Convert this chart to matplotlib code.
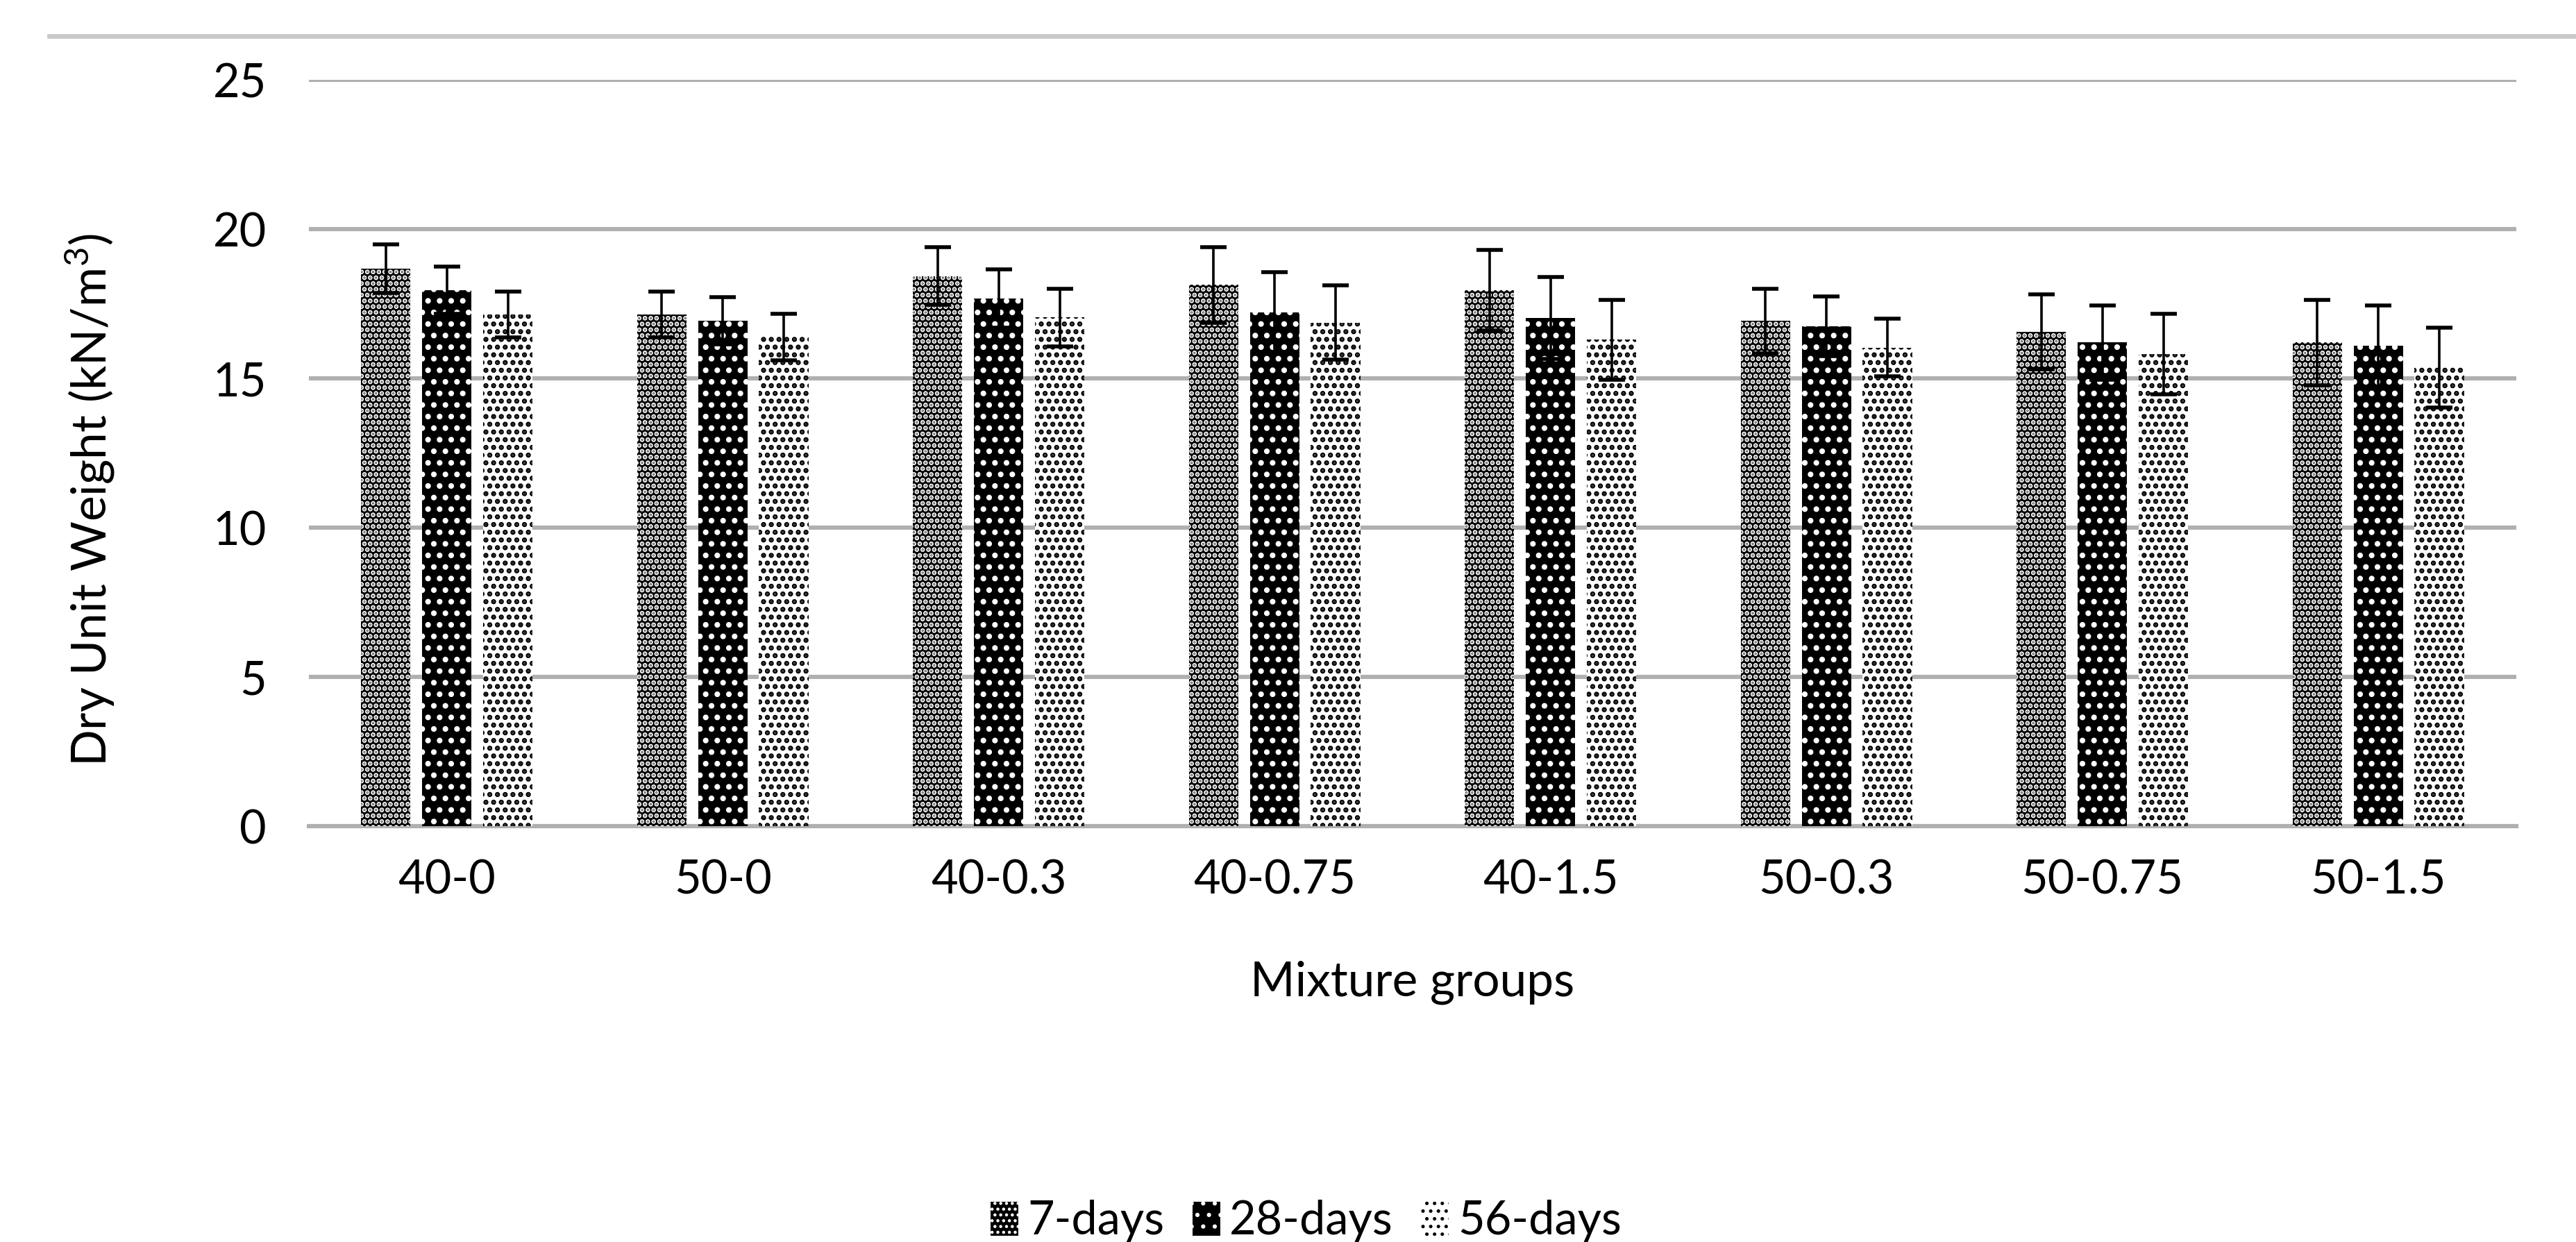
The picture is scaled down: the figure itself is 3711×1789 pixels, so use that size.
import numpy as np
import matplotlib
matplotlib.use("Agg")
import matplotlib.pyplot as plt
from matplotlib.lines import Line2D

plt.rcParams['font.family'] = ['Lato', 'DejaVu Sans']
plt.rcParams['mathtext.fontset'] = 'custom'
plt.rcParams['mathtext.rm'] = 'Lato'
plt.rcParams['mathtext.default'] = 'regular'

categories = ['40-0', '50-0', '40-0.3', '40-0.75', '40-1.5', '50-0.3', '50-0.75', '50-1.5']
series_names = ['7-days', '28-days', '56-days']
days7 = [18.68, 17.14, 18.43, 18.13, 17.95, 16.92, 16.56, 16.20]
err7 = [0.81, 0.77, 0.97, 1.27, 1.35, 1.08, 1.26, 1.44]
days28 = [17.96, 16.93, 17.68, 17.21, 17.02, 16.74, 16.20, 16.09]
err28 = [0.79, 0.79, 0.97, 1.34, 1.37, 1.00, 1.25, 1.36]
days56 = [17.14, 16.39, 17.04, 16.87, 16.30, 16.03, 15.82, 15.37]
err56 = [0.77, 0.78, 0.96, 1.24, 1.34, 0.96, 1.35, 1.34]
yticks = [0, 5, 10, 15, 20, 25]

fig = plt.figure(figsize=(18.555, 8.945), dpi=200)
ax = fig.add_axes([0.1199, 0.3348, 0.8569, 0.6009])

x = np.arange(len(categories))
width = 0.179
pitch = 0.221

styles = [
    dict(facecolor='black', edgecolor='white', hatch='....', hlw=1.75),
    dict(facecolor='black', edgecolor='white', hatch='..', hlw=1.7),
    dict(facecolor='white', edgecolor='black', hatch='...', hlw=1.8),
]
vals = [days7, days28, days56]
errs = [err7, err28, err56]
handles = []
for i, (v, e, st) in enumerate(zip(vals, errs, styles)):
    with plt.rc_context({'hatch.linewidth': st['hlw']}):
        bars = ax.bar(x + (i - 1) * pitch, v, width, facecolor=st['facecolor'],
                      edgecolor=st['edgecolor'], hatch=st['hatch'], linewidth=0,
                      label=series_names[i], zorder=3)
        for b in bars:
            try:
                b.set_hatch_linewidth(st['hlw'])
            except AttributeError:
                pass
    handles.append(bars)
    ax.errorbar(x + (i - 1) * pitch, v, yerr=e, fmt='none', ecolor='black',
                elinewidth=1.3, capsize=7, capthick=2.0, zorder=4)

ax.set_xlim(-0.5, len(categories) - 0.5)
ax.set_ylim(0, 25)
ax.set_yticks(yticks)
ax.set_xticks(x)
ax.set_xticklabels(categories)
ax.tick_params(axis='both', length=0, labelsize=24, colors='#000000')
ax.tick_params(axis='x', pad=17)
ax.tick_params(axis='y', pad=22)
ax.yaxis.grid(True, color='#b0b0b0', linewidth=2.2, zorder=0)
ax.set_axisbelow(True)
for s in ['top', 'right', 'left']:
    ax.spines[s].set_visible(False)
ax.spines['bottom'].set_color('#b0b0b0')
ax.spines['bottom'].set_linewidth(2.2)
ax.spines['bottom'].set_zorder(2)

fig.text(0.5484, 0.209, 'Mixture groups', ha='center', va='center', fontsize=25)
fig.text(0.035, 0.5975, r'Dry Unit Weight (kN/m$^{3}$)', ha='center', va='center',
         rotation=90, fontsize=25)

fig.add_artist(Line2D([0.019, 1.0], [0.971, 0.971], transform=fig.transFigure,
                      color='#c8c8c8', linewidth=2.4))

leg = fig.legend(handles=handles, labels=series_names, loc='center',
                 bbox_to_anchor=(0.507, 0.0165), ncol=3, frameon=False,
                 fontsize=24, handlelength=0.6, handleheight=0.75,
                 handletextpad=0.2, columnspacing=0.6)

fig.savefig('out.png', dpi=200)
